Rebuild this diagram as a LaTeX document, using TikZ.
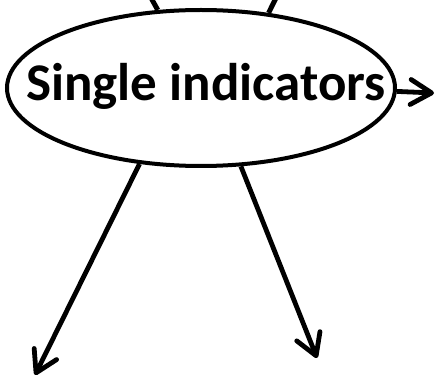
\documentclass[tikz,border=0pt]{standalone}
\usepackage{fontspec}
\setmainfont{Carlito}
\usetikzlibrary{shapes.geometric,arrows.meta}
\tikzset{
  bubble/.style={ellipse, draw, line width=4pt, minimum width=388pt, minimum height=156pt, inner sep=0pt},
  title/.style={font=\bfseries\fontsize{53}{53}\selectfont, inner sep=0pt, anchor=base},
  link/.style={line width=5pt},
  flow/.style={line width=4.8pt, -{Straight Barb[length=21pt, width=25pt, round]}}
}
\begin{document}
\begin{tikzpicture}[x=1pt, y=1pt]
  \useasboundingbox (0,0) rectangle (437,378);
  \clip (0,0) rectangle (437,378);
  % central ellipse and its caption
  \node[bubble] (ind) at (201,290) {};
  \node[title] (lbl) at (206,277.3) {Single indicators};
  % incoming links from above, cut by the frame
  \coordinate (inA) at (150,382);
  \coordinate (inB) at (277,382);
  \draw[link] (inA) -- (ind.119.7);
  \draw[link] (inB) -- (ind.48.1);
  % outgoing arrows
  \coordinate (outR) at (434,285);
  \coordinate (outL) at (35,3);
  \coordinate (outD) at (317,20);
  \draw[flow] (ind.-1.5) -- (outR);
  \draw[flow] (ind.231) -- (outL);
  \draw[flow] (ind.297.7) -- (outD);
\end{tikzpicture}
\end{document}
